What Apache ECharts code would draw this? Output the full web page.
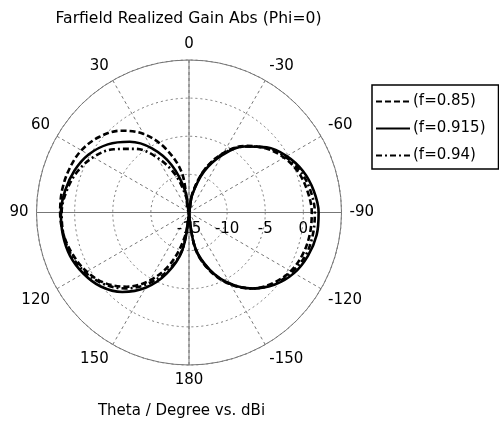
<!DOCTYPE html>
<html><head><meta charset="utf-8">
<script src="https://cdn.jsdelivr.net/npm/echarts@6/dist/echarts.min.js"></script>
<style>html,body{margin:0;padding:0;background:#fff}#c{width:499px;height:422px}</style>
</head><body><div id="c"></div>
<script>
const thetaDeg = [-180,-170,-160,-150,-140,-130,-120,-110,-100,-90,-80,-70,-60,-50,-40,-30,-20,-10,0,10,20,30,40,50,60,70,80,90,100,110,120,130,140,150,160,170,180];
const gainF085 = [-15,-10.1,-6.8,-4.1,-2.0,-0.6,0.4,0.9,1.1,1.1,0.8,0.3,-0.6,-1.9,-3.6,-6.0,-9.0,-12.5,-15,-9.8,-6.1,-3.1,-1.0,0.4,1.3,1.7,1.9,1.9,1.7,1.2,0.5,-0.6,-2.3,-4.7,-7.8,-11.7,-15];
const gainF0915 = [-15,-10.3,-7.0,-4.2,-2.0,-0.3,0.9,1.6,2.0,2.0,1.6,0.9,-0.2,-1.7,-3.7,-6.3,-9.3,-12.7,-15,-12.1,-8.4,-5.3,-2.9,-1.1,0.2,1.0,1.5,1.8,1.8,1.6,1.0,0.1,-1.4,-3.6,-6.5,-10.0,-15];
const gainF094 = [-15,-10.2,-6.9,-4.2,-2.0,-0.4,0.6,1.3,1.5,1.5,1.2,0.6,-0.4,-1.8,-3.7,-6.1,-9.1,-12.6,-15,-13.0,-9.7,-6.7,-4.1,-2.1,-0.5,0.6,1.3,1.7,1.7,1.4,0.7,-0.4,-2.0,-4.2,-6.9,-10.1,-15];
const seriesNames = ['(f=0.85)','(f=0.915)','(f=0.94)'];
const radiusTicks = [-15,-10,-5,0,5];
const angleTicks = [0,30,60,90,120,150,180,-150,-120,-90,-60,-30];

const FONT = 'DejaVu Sans';
const toAxisAngle = t => (t < -90 ? t + 360 : t);
const mk = g => thetaDeg.map((t, i) => [g[i], toAxisAngle(t)]);
const rMin = radiusTicks[0], rMax = radiusTicks[radiusTicks.length - 1];

const chart = echarts.init(document.getElementById('c'), null, {renderer: 'canvas'});
chart.setOption({
  animation: false,
  backgroundColor: '#fff',
  title: [
    {text: 'Farfield Realized Gain Abs (Phi=0)', left: 183.5, top: 6, textAlign: 'center',
     textStyle: {fontFamily: FONT, fontSize: 15.6, fontWeight: 'normal', color: '#000'}},
    {text: 'Theta / Degree vs. dBi', left: 176.5, top: 399, textAlign: 'center',
     textStyle: {fontFamily: FONT, fontSize: 15, fontWeight: 'normal', color: '#000'}}
  ],
  legend: {
    orient: 'vertical', left: 372, top: 85,
    data: seriesNames,
    itemWidth: 34, itemHeight: 14, itemGap: 12,
    padding: [9, 13, 6, 3],
    itemStyle: {opacity: 0},
    backgroundColor: '#fff', borderColor: '#000', borderWidth: 1.5, borderRadius: 0,
    textStyle: {fontFamily: FONT, fontSize: 15, color: '#000', padding: [0,0,0,-2]}
  },
  polar: {center: [189, 212.5], radius: 152.5},
  angleAxis: {
    type: 'value', min: -90, max: 270, interval: 30, startAngle: 0, clockwise: false,
    axisLine: {show: true, lineStyle: {color: '#777', width: 1}},
    axisTick: {show: false},
    axisLabel: {
      fontFamily: FONT, fontSize: 15, color: '#000', margin: 8,
      formatter: v => {
        if (v === 270) return '';
        const t = v > 180 ? v - 360 : v;
        return angleTicks.indexOf(t) >= 0 ? String(t) : '';
      }
    },
    splitLine: {show: true, lineStyle: {color: '#777', type: [3, 3], width: 1}}
  },
  radiusAxis: {
    type: 'value', min: rMin, max: rMax, interval: 5,
    axisLine: {show: false}, axisTick: {show: false},
    axisLabel: {fontFamily: FONT, fontSize: 15, color: '#000', margin: -9, verticalAlign: 'top',
      formatter: v => (v === rMax ? '' : String(v))},
    splitLine: {show: true, lineStyle: {color: '#777', type: [2, 3], width: 1}}
  },
  series: [
    {type: 'line', coordinateSystem: 'polar', silent: true, symbol: 'none', z: 1,
     data: [[rMax, 0], [rMin, 0], [rMax, 180]], lineStyle: {color: '#777', width: 1}},
    {type: 'line', coordinateSystem: 'polar', silent: true, symbol: 'none', z: 1,
     data: [[rMax, 90], [rMin, 90], [rMax, -90]], lineStyle: {color: '#777', width: 1}},
    {name: seriesNames[0], type: 'line', coordinateSystem: 'polar', symbol: 'none', smooth: 0.35, z: 3,
     data: mk(gainF085), lineStyle: {color: '#000', width: 2.6, type: [6, 3]}, itemStyle: {color: '#000'}},
    {name: seriesNames[1], type: 'line', coordinateSystem: 'polar', symbol: 'none', smooth: 0.35, z: 3,
     data: mk(gainF0915), lineStyle: {color: '#000', width: 2.6}, itemStyle: {color: '#000'}},
    {name: seriesNames[2], type: 'line', coordinateSystem: 'polar', symbol: 'none', smooth: 0.35, z: 3,
     data: mk(gainF094), lineStyle: {color: '#000', width: 2.6, type: [6, 3, 2, 3]}, itemStyle: {color: '#000'}}
  ]
});
</script>
</body></html>
